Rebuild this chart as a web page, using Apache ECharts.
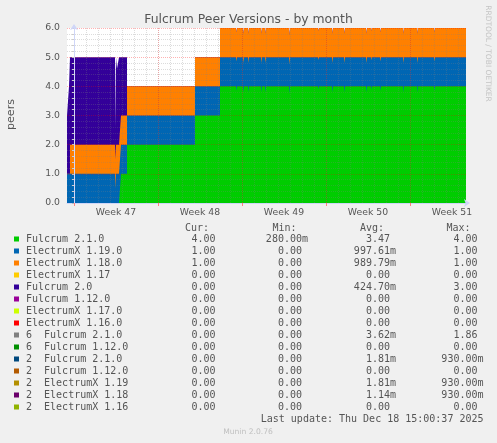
<!DOCTYPE html>
<html><head><meta charset="utf-8">
<script src="https://cdn.jsdelivr.net/npm/echarts@6/dist/echarts.min.js"></script>
<style>html,body{margin:0;padding:0;background:#f0f0f0;}#c{width:497px;height:443px;}</style>
</head><body><div id="c"></div>
<script>
// x values: hours since Mon 17 Nov 2025 00:00 (start of Week 47); one picture pixel = 2 h
const hours        = [-14,-10,-8, 82, 84, 86, 90, 94,106,242,292, 324,326, 338,340, 348,350, 374,376, 382,384, 430,432, 488,490, 516,518, 540,542, 584,586, 594,596, 612,614, 658,660, 686,688, 720,722, 784];
const fulcrum210   = [  0,  0, 0,  0,  0,  0,  0,  1,  2,  3,  4, 3.85,4, 3.8,4, 3.8,4, 3.8,4, 3.8,4, 3.75,4, 3.9,4, 3.8,4, 3.8,4, 3.8,4, 3.9,4, 3.85,4, 3.8,4, 3.8,4, 3.85,4, 4];
const electrumx1190= [  1,  1, 1,0.5,  1,  1,  1,  1,  1,  1,  1, 1,1, 1,1, 1,1, 1,1, 1,1, 1,1, 1,1, 1,1, 1,1, 1,1, 1,1, 1,1, 1,1, 1,1, 1,1, 1];
const electrumx1180= [  0,  0, 1,  1,  1,  1,  1,  1,  1,  1,  1, 1,1, 1,1, 1,1, 1,1, 1,1, 1,1, 1,1, 1,1, 1,1, 1,1, 1,1, 1,1, 1,1, 1,1, 1,1, 1];
const fulcrum20    = [  2,  3, 3,1.1,  3,2.6,  3,  2,  0,  0,  0, 0,0, 0,0, 0,0, 0,0, 0,0, 0,0, 0,0, 0,0, 0,0, 0,0, 0,0, 0,0, 0,0, 0,0, 0,0, 0];

const weekStartHours = [0, 168, 336, 504, 672];
const weekLabelHours = [84, 252, 420, 588, 756];
const weekLabels     = ['Week 47', 'Week 48', 'Week 49', 'Week 50', 'Week 51'];

const legendNames  = ['Fulcrum 2.1.0','ElectrumX 1.19.0','ElectrumX 1.18.0','ElectrumX 1.17','Fulcrum 2.0','Fulcrum 1.12.0','ElectrumX 1.17.0','ElectrumX 1.16.0','6  Fulcrum 2.1.0','6  Fulcrum 1.12.0','2  Fulcrum 2.1.0','2  Fulcrum 1.12.0','2  ElectrumX 1.19','2  ElectrumX 1.18','2  ElectrumX 1.16'];
const legendColors = ['#00CC00','#0066B3','#FF8000','#FFCC00','#330099','#990099','#CCFF00','#FF0000','#808080','#008F00','#00487D','#B35A00','#B38F00','#6B006B','#8FB300'];
const curVals = ['4.00','1.00','1.00','0.00','0.00','0.00','0.00','0.00','0.00','0.00','0.00','0.00','0.00','0.00','0.00'];
const minVals = ['280.00m','0.00','0.00','0.00','0.00','0.00','0.00','0.00','0.00','0.00','0.00','0.00','0.00','0.00','0.00'];
const avgVals = ['3.47','997.61m','989.79m','0.00','424.70m','0.00','0.00','0.00','3.62m','0.00','1.81m','0.00','1.81m','1.14m','0.00'];
const maxVals = ['4.00','1.00','1.00','0.00','3.00','0.00','0.00','0.00','1.86','0.00','930.00m','0.00','930.00m','930.00m','0.00'];

const dayTicks = [];
for (let h = 0; h <= 784; h += 24) dayTicks.push(h);

const chart = echarts.init(document.getElementById('c'), null, {renderer: 'canvas'});
const SANS = 'DejaVu Sans', MONO = 'DejaVu Sans Mono';
const AXC = '#cfd6f8';

// stacked (RRD STACK) drawing: each layer's top = sum of the layers below it plus itself;
// layers are painted top-first so that lower layers cover the lower part.
const layers = [
  {name:'Fulcrum 2.1.0',    vals: fulcrum210,    color: legendColors[0]},
  {name:'ElectrumX 1.19.0', vals: electrumx1190, color: legendColors[1]},
  {name:'ElectrumX 1.18.0', vals: electrumx1180, color: legendColors[2]},
  {name:'Fulcrum 2.0',      vals: fulcrum20,     color: legendColors[4]}
];
const running = hours.map(() => 0);
const series = [];
layers.forEach((L, k) => {
  const tops = L.vals.map((v, i) => (running[i] += v));
  series.push({
    name: L.name, type: 'line', step: 'end', symbol: 'none', silent: true,
    data: hours.map((h, i) => [h, tops[i]]),
    color: L.color, lineStyle: {width: 0}, areaStyle: {color: L.color, opacity: 1},
    z: 8 - k
  });
});

const graphics = [];
graphics.push({type:'text', x:248.5, y:20, style:{text:'Fulcrum Peer Versions - by month', fontFamily:SANS, fontSize:12.4, fill:'#555', align:'center', verticalAlign:'middle'}});
graphics.push({type:'text', x:488, y:53.5, rotation:-Math.PI/2, style:{text:'RRDTOOL / TOBI OETIKER', fontFamily:SANS, fontSize:7.5, fill:'#c4c4c4', align:'center', verticalAlign:'middle'}});
graphics.push({type:'text', x:11, y:114.5, rotation:Math.PI/2, style:{text:'peers', fontFamily:SANS, fontSize:11, fill:'#555', align:'center', verticalAlign:'middle'}});

const hdr = [['Cur:',185],['Min:',272.5],['Avg:',360],['Max:',446.5]];
hdr.forEach(([t,x]) => graphics.push({type:'text', x, y:228, style:{text:t, fontFamily:MONO, fontSize:10, fill:'#555', align:'left', verticalAlign:'middle'}}));
const colEdges = [221.5, 308, 396, 483.5];
const fmt = s => s.endsWith('m') ? s : s + ' ';
legendNames.forEach((n, i) => {
  const y = 239.5 + 12 * i;
  graphics.push({type:'rect', shape:{x:14, y:y-3, width:5, height:5}, style:{fill:legendColors[i]}});
  graphics.push({type:'text', x:26, y, style:{text:n, fontFamily:MONO, fontSize:10, fill:'#555', align:'left', verticalAlign:'middle'}});
  [curVals, minVals, avgVals, maxVals].forEach((arr, c) => {
    graphics.push({type:'text', x:colEdges[c], y, style:{text:fmt(arr[i]), fontFamily:MONO, fontSize:10, fill:'#555', align:'right', verticalAlign:'middle'}});
  });
});
graphics.push({type:'text', x:483.5, y:419.5, style:{text:'Last update: Thu Dec 18 15:00:37 2025', fontFamily:MONO, fontSize:10, fill:'#555', align:'right', verticalAlign:'middle'}});
graphics.push({type:'text', x:248, y:432, style:{text:'Munin 2.0.76', fontFamily:SANS, fontSize:7.6, fill:'#c0c0c0', align:'center', verticalAlign:'middle'}});

chart.setOption({
  animation: false,
  backgroundColor: '#f0f0f0',
  grid: {left:67, top:28, width:399, height:175, show:true, backgroundColor:'#ffffff', borderWidth:0, containLabel:false},
  xAxis: [{
    type:'value', min:-14, max:784, position:'bottom', z:21,
    axisLine:{show:true, onZero:false, lineStyle:{color:AXC}, symbol:['none','arrow'], symbolSize:[6,6], symbolOffset:[0,4]},
    axisTick:{show:true, customValues: weekStartHours, length:3, lineStyle:{color:'#ff8080'}},
    axisLabel:{show:true, customValues: weekLabelHours, formatter: v => weekLabels[weekLabelHours.indexOf(v)], color:'#555', fontFamily:SANS, fontSize:9.3, margin:5},
    splitLine:{show:true, lineStyle:{color:'rgba(255,0,0,0.25)', type:[1,1], width:1}}
  },{
    type:'value', min:-14, max:784, position:'top', z:20,
    axisLine:{show:false}, axisLabel:{show:false},
    axisTick:{show:false, customValues: dayTicks},
    splitLine:{show:true, lineStyle:{color:'rgba(128,128,128,0.28)', type:[1,1], width:1}}
  }],
  yAxis: {
    type:'value', min:0, max:6, interval:1, z:21,
    axisLine:{show:true, lineStyle:{color:AXC}, symbol:['none','arrow'], symbolSize:[6,6], symbolOffset:[0,4]},
    axisTick:{show:true, length:2, lineStyle:{color:'#bbb'}},
    minorTick:{show:true, splitNumber:5, length:2, lineStyle:{color:'#ccc'}},
    axisLabel:{formatter: v => v.toFixed(1), color:'#555', fontFamily:SANS, fontSize:9.3, margin:7},
    splitLine:{show:true, lineStyle:{color:'rgba(255,0,0,0.3)', type:[1,1], width:1}},
    minorSplitLine:{show:true, lineStyle:{color:'rgba(128,128,128,0.28)', type:[1,1], width:1}}
  },
  series: series,
  graphic: graphics
});
</script></body></html>
